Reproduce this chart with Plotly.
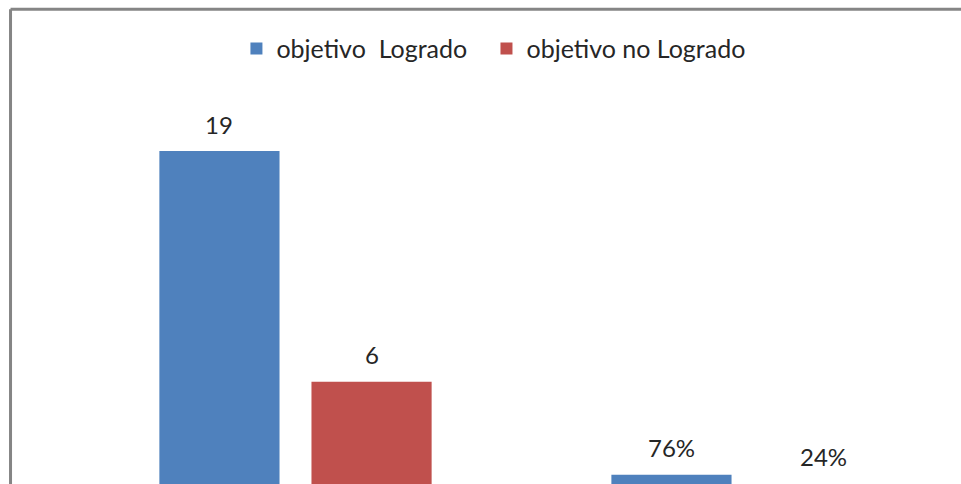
import plotly.graph_objects as go

categories = ["Cantidad", "Porcentaje"]
series_names = ["objetivo  Logrado", "objetivo no Logrado"]
logrado = [19, 0.76]
no_logrado = [6, 0.24]
labels_logrado = ["19", "76%"]
labels_no_logrado = ["6", "24%"]
colors = ["#4F81BD", "#C0504D"]

FONT = "Lato"
TXT = "#262626"
bargap = 0.327
bargroupgap = 0.21

fig = go.Figure()
for name, vals, col, leg in zip(series_names, [logrado, no_logrado], colors, ["legend", "legend2"]):
    fig.add_trace(go.Bar(x=categories, y=vals, name=name, legend=leg,
                         marker=dict(color=col, line=dict(width=0)), hoverinfo="skip"))

off = (1 - bargap) / 4
annotations = []
for k, (vals, labs) in enumerate([(logrado, labels_logrado), (no_logrado, labels_no_logrado)]):
    sign = -1 if k == 0 else 1
    for i, (v, t) in enumerate(zip(vals, labs)):
        annotations.append(dict(x=i + sign * off, y=v, xref="x", yref="y", text=t, showarrow=False,
                                yanchor="middle", yshift=27, font=dict(family=FONT, size=24, color=TXT)))

legend_style = dict(orientation="h", xanchor="left", y=0.918, yanchor="middle",
                    font=dict(family=FONT, size=25, color=TXT), bgcolor="rgba(0,0,0,0)")
border = dict(color="#858585", width=3)
fig.update_layout(
    width=961, height=484,
    margin=dict(l=11, r=0, t=10, b=0),
    paper_bgcolor="white", plot_bgcolor="white",
    barmode="group", bargap=bargap, bargroupgap=bargroupgap,
    font=dict(family=FONT, size=24, color=TXT),
    showlegend=True,
    legend=dict(x=0.2373, **legend_style),
    legend2=dict(x=0.5005, **legend_style),
    xaxis=dict(range=[-0.6294, 1.4723], showticklabels=False, showgrid=False, zeroline=False,
               showline=False, ticks=""),
    yaxis=dict(range=[0.235, 26.955], visible=False, showgrid=False, zeroline=False),
    annotations=annotations,
    shapes=[
        dict(type="line", xref="paper", yref="paper", x0=-0.0005, x1=-0.0005, y0=-0.1, y1=1.0015,
             line=border, layer="above"),
        dict(type="line", xref="paper", yref="paper", x0=-0.0005, x1=1.1, y0=1.0015, y1=1.0015,
             line=border, layer="above"),
    ],
)

fig.write_html(
    "out.html",
    config={"displayModeBar": False, "staticPlot": True},
    post_script="document.documentElement.style.overflow='hidden';"
                "document.body.style.margin='0';document.body.style.overflow='hidden';",
)
